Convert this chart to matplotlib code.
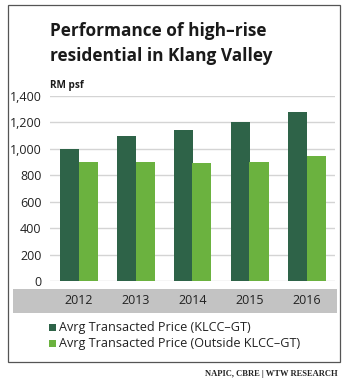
import matplotlib
matplotlib.use('Agg')
import matplotlib.pyplot as plt
from matplotlib.patches import Rectangle
import numpy as np

plt.rcParams['font.family'] = ['Open Sans', 'DejaVu Sans']

years = ['2012', '2013', '2014', '2015', '2016']
klcc = [1000, 1095, 1145, 1203, 1281]
outside = [898, 902, 891, 902, 944]
series_names = ['Avrg Transacted Price (KLCC\u2013GT)', 'Avrg Transacted Price (Outside KLCC\u2013GT)']
yticks = [0, 200, 400, 600, 800, 1000, 1200, 1400]

dark = '#2e6348'
light = '#6bb23f'

W, H = 349, 388
fig = plt.figure(figsize=(W / 100, H / 100), dpi=100)

def fx(px): return px / W
def fy(py): return 1 - py / H

# outer frame
fig.patches.append(Rectangle((fx(8), fy(362)), fx(340) - fx(8), fy(5) - fy(362),
                             transform=fig.transFigure, fill=False, edgecolor='#555555', lw=0.9))
# grey band behind the years
fig.patches.append(Rectangle((fx(13), fy(313)), fx(337) - fx(13), fy(289) - fy(313),
                             transform=fig.transFigure, facecolor='#c3c3c3', edgecolor='none', zorder=-1))

fig.text(fx(50), fy(36), 'Performance of high\u2013rise', fontsize=12.4, fontweight='bold', color='#1a1a1a', va='baseline')
fig.text(fx(50), fy(61), 'residential in Klang Valley', fontsize=12.4, fontweight='bold', color='#1a1a1a', va='baseline')
fig.text(fx(50), fy(88), 'RM psf', fontsize=7.2, fontweight='bold', color='#1a1a1a', va='baseline')

ax = fig.add_axes([fx(50), fy(281), fx(335) - fx(50), fy(96) - fy(281)])
x = np.arange(len(years))
w = 1 / 3
ax.bar(x - w / 2, klcc, w, color=dark, zorder=3)
ax.bar(x + w / 2, outside, w, color=light, zorder=3)
ax.set_xlim(-0.5, len(years) - 0.5)
ax.set_ylim(0, 1400)
ax.set_yticks(yticks)
ax.set_yticklabels([f'{v:,}' for v in yticks], fontsize=9, color='#222222')
ax.grid(axis='y', color='#d4d4d4', lw=1.0, zorder=0)
ax.tick_params(axis='y', length=0, pad=6)
ax.set_xticks([])
for s in ax.spines.values():
    s.set_visible(False)

for i, yr in enumerate(years):
    xd = ax.transData.transform((i, 0))[0]
    fig.text(xd / W, fy(301), yr, ha='center', va='center', fontsize=9, color='#222222')

for j, (name, c) in enumerate(zip(series_names, [dark, light])):
    yy = 327 + j * 16
    fig.patches.append(Rectangle((fx(49), fy(yy + 3.5)), fx(7), fy(0) - fy(7),
                                 transform=fig.transFigure, facecolor=c, edgecolor='none'))
    fig.text(fx(59), fy(yy), name, fontsize=9.1, color='#222222', va='center')

fig.text(fx(338), fy(374), 'NAPIC, CBRE | WTW RESEARCH', fontsize=6.1, fontweight='bold',
         family='Liberation Serif', color='#222222', ha='right', va='center')

fig.savefig('out.png', dpi=100)
